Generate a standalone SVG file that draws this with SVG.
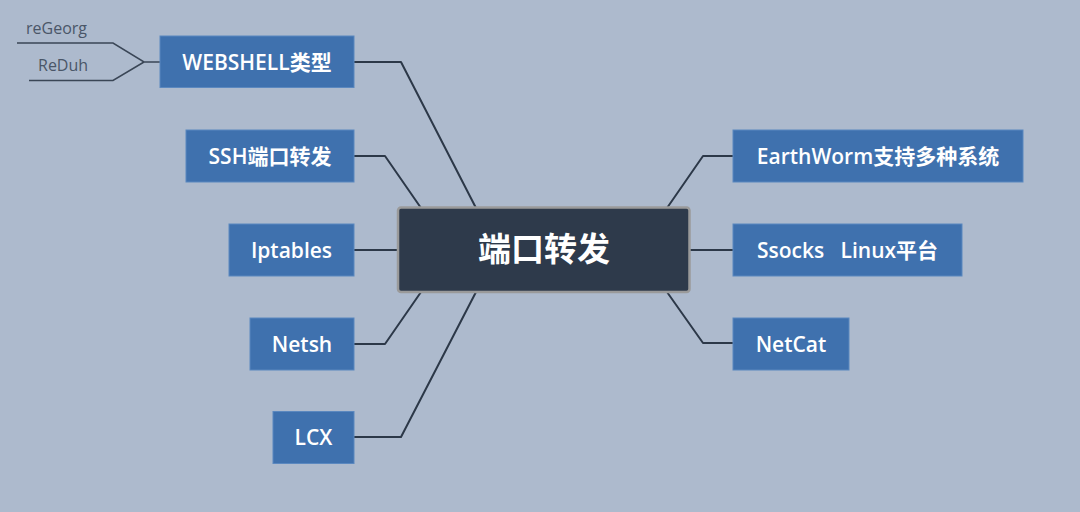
<svg xmlns="http://www.w3.org/2000/svg" width="1080" height="512" viewBox="0 0 1080 512">
<style>
.n{fill:#3f71ae;stroke:#5b88bf;stroke-width:1}
.t{fill:#ffffff;font-family:"Open Sans","Noto Sans CJK SC",sans-serif;font-weight:600;font-size:21px;text-anchor:middle}
.c{fill:none;stroke:#2c3848;stroke-width:2;stroke-linejoin:round}
.s{fill:none;stroke:#3a4656;stroke-width:1.5}
.l{fill:#4a5668;font-family:"Open Sans","Noto Sans",sans-serif;font-size:16px}
</style>
<rect width="1080" height="512" fill="#adbacd"/>
<g id="connectors">
<path class="c" d="M354,62 H401 L476,208"/>
<path class="c" d="M354,156 H385 L421,208"/>
<path class="c" d="M354,250 H398"/>
<path class="c" d="M354,344 H385 L421,292"/>
<path class="c" d="M354,437 H401 L476,292"/>
<path class="c" d="M733,156 H703 L667,208"/>
<path class="c" d="M733,250 H690"/>
<path class="c" d="M733,343 H703 L667,292"/>
<path class="s" d="M160,62 H144 L113,43 H17"/>
<path class="s" d="M144,62 L113,80.5 H29"/>
</g>
<g id="center">
<rect x="398" y="207.5" width="291.5" height="84.5" rx="3" fill="#2e3a4b" stroke="#9a9a9a" stroke-width="2.5"/>
<text x="544" y="261" style="fill:#fff;font-family:'Noto Sans CJK SC',sans-serif;font-weight:bold;font-size:33px;text-anchor:middle">端口转发</text>
</g>
<g id="webshell">
<rect class="n" x="160" y="36" width="194" height="51.5"/>
<text class="t" x="257" y="69.5">WEBSHELL类型</text>
</g>
<g id="regeorg"><text class="l" x="26" y="34">reGeorg</text></g>
<g id="reduh"><text class="l" x="38" y="71">ReDuh</text></g>
<g id="ssh">
<rect class="n" x="186" y="130" width="168" height="52"/>
<text class="t" x="270" y="163.5">SSH端口转发</text>
</g>
<g id="iptables">
<rect class="n" x="229" y="224" width="125" height="52"/>
<text class="t" x="291.5" y="257.5">Iptables</text>
</g>
<g id="netsh">
<rect class="n" x="250" y="318" width="104" height="52"/>
<text class="t" x="302" y="351.5">Netsh</text>
</g>
<g id="lcx">
<rect class="n" x="273" y="411.5" width="81" height="52"/>
<text class="t" x="313.5" y="445">LCX</text>
</g>
<g id="earthworm">
<rect class="n" x="733" y="130" width="290" height="52"/>
<text class="t" x="878" y="163.5">EarthWorm支持多种系统</text>
</g>
<g id="ssocks">
<rect class="n" x="733" y="224" width="229" height="52"/>
<text class="t" x="847.5" y="257.5" xml:space="preserve">Ssocks   Linux平台</text>
</g>
<g id="netcat">
<rect class="n" x="733" y="318" width="116" height="52"/>
<text class="t" x="791" y="351.5">NetCat</text>
</g>
</svg>
